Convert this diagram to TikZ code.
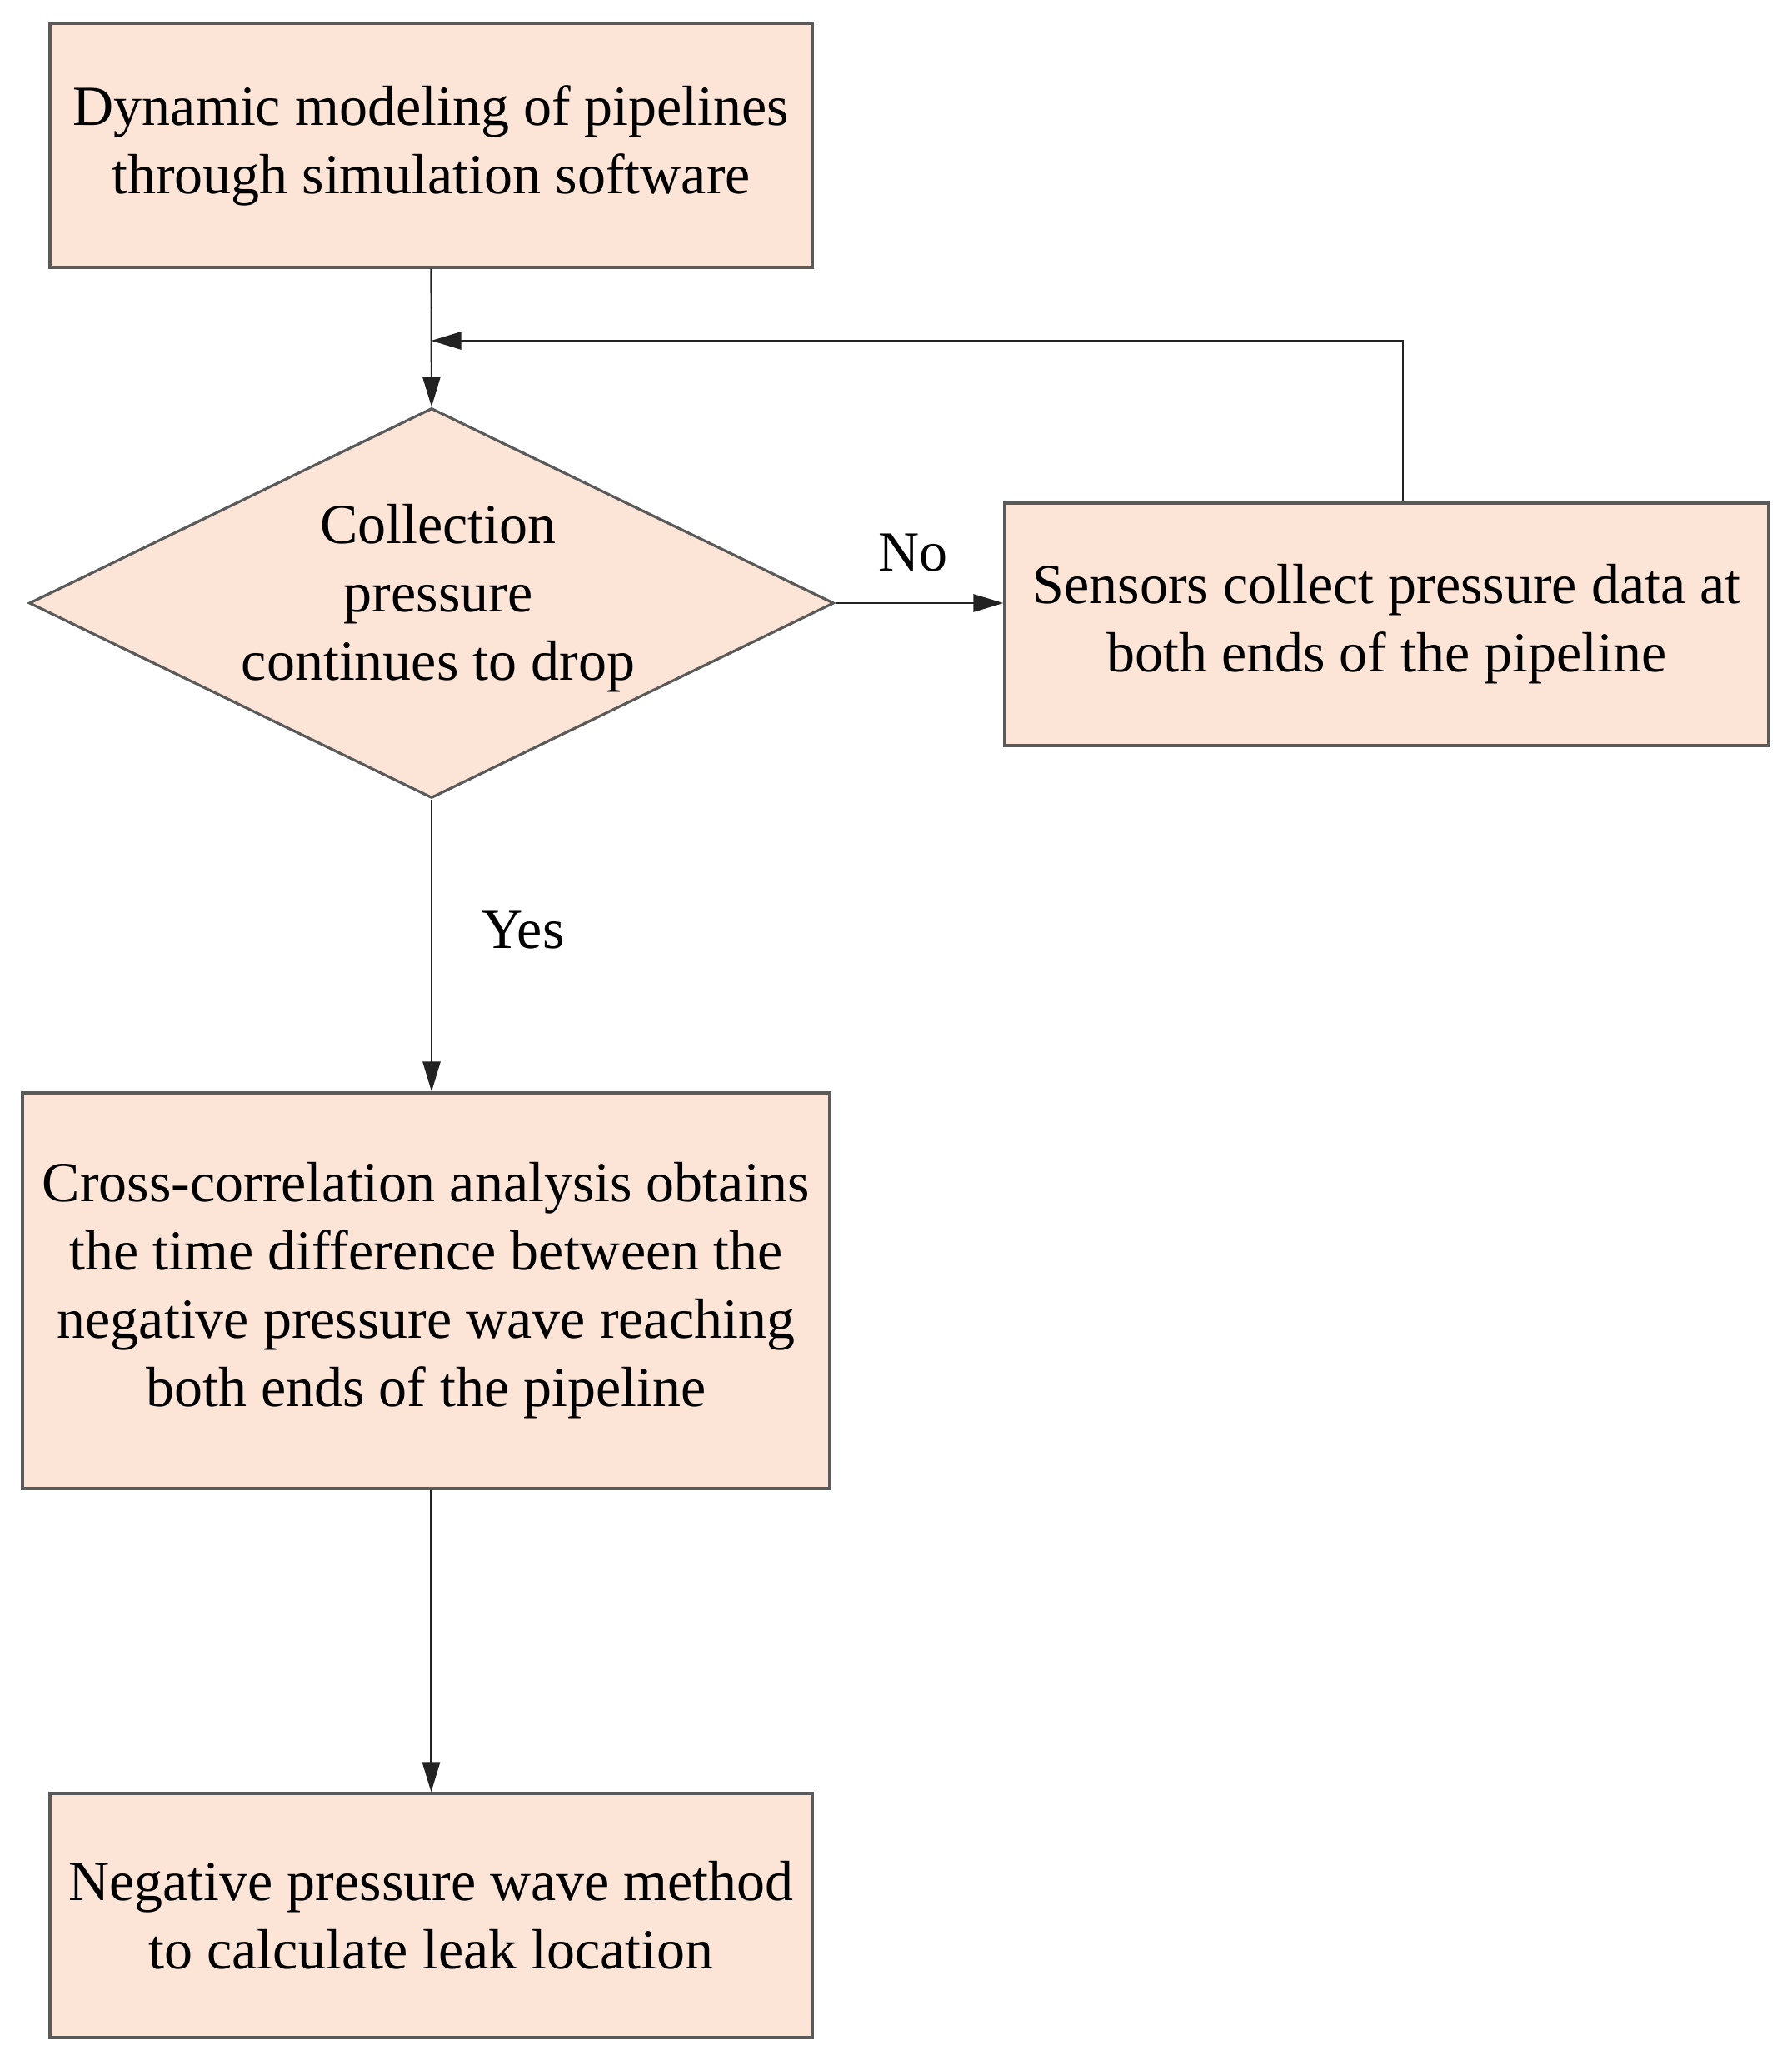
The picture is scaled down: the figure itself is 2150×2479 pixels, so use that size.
\documentclass[tikz,border=0pt]{standalone}
\usepackage{fontspec}
\setmainfont{Liberation Serif}
\usetikzlibrary{shapes.geometric,arrows.meta}
\definecolor{boxfill}{HTML}{FCE4D6}
\definecolor{boxline}{HTML}{5A5A5A}
\definecolor{conn}{HTML}{222222}
\tikzset{
  box/.style={draw=boxline, line width=0.8pt, fill=boxfill, rectangle, align=center, inner sep=0pt,
    font=\fontsize{17}{20.5}\selectfont},
  dec/.style={draw=boxline, line width=0.8pt, fill=boxfill, diamond, inner sep=0pt},
  txt/.style={align=center, inner sep=0pt, font=\fontsize{17}{20.5}\selectfont},
  arr/.style={draw=conn, line width=0.55pt, -{Triangle[length=9pt,width=5.3pt]}},
  ln/.style={draw=conn, line width=0.55pt}
}
\begin{document}
\begin{tikzpicture}[x=0.25pt,y=-0.25pt]
\useasboundingbox (0,0) rectangle (2150,2479);
\node[box, minimum width=228.75pt, minimum height=73.25pt] (b1) at (517.5,174.5)
  {Dynamic modeling of pipelines\\through simulation software};
\node[dec, minimum width=241.5pt, minimum height=117pt] (d) at (518,724) {};
\node[txt] (dt) at (526,718) {Collection\\pressure\\continues to drop};
\node[box, minimum width=229.25pt, minimum height=72.75pt] (b2) at (1664.5,749.5)
  {Sensors collect pressure data at\\both ends of the pipeline};
\node[box, minimum width=242.25pt, minimum height=118.75pt] (b3) at (511.5,1549.5)
  {Cross-correlation analysis obtains\\the time difference between the\\negative pressure wave reaching\\both ends of the pipeline};
\node[box, minimum width=228.75pt, minimum height=73.25pt] (b4) at (517.5,2299.5)
  {Negative pressure wave method\\to calculate leak location};
\node[txt] (no) at (1096,664) {No};
\node[txt] (yes) at (628,1117) {Yes};
\coordinate (fb) at (1684,409);
\draw[arr] (b1.south) -- (d.north);
\draw[arr] (d.east) -- (d.east -| b2.west);
\draw[arr] (d.south) -- (d.south |- b3.north);
\draw[arr] (b4.north |- b3.south) -- (b4.north);
\draw[arr] (b2.north -| fb) -- (fb) -- (b1.south |- fb);
\end{tikzpicture}
\end{document}
